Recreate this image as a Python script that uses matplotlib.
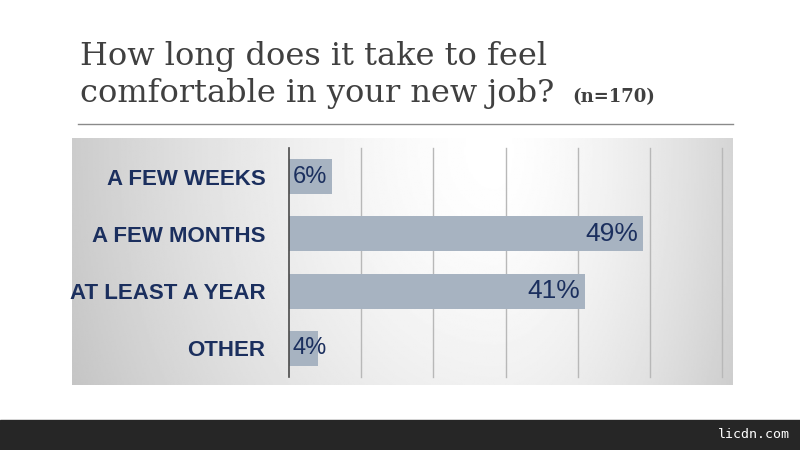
import numpy as np
import matplotlib.pyplot as plt

categories = ["A FEW WEEKS", "A FEW MONTHS", "AT LEAST A YEAR", "OTHER"]
values = [6, 49, 41, 4]
value_labels = ["6%", "49%", "41%", "4%"]

W, H = 800, 450
fig = plt.figure(figsize=(8, 4.5), dpi=100)
fig.patch.set_facecolor("white")

# gradient panel behind the chart
bg = fig.add_axes([72 / W, (H - 385) / H, 661 / W, 247 / H])
gx, gy = np.meshgrid(np.linspace(0, 1, 400), np.linspace(0, 1, 200))
cx = 0.64
rx = np.where(gx < cx, 0.70, 0.45)
d = np.sqrt(((gx - cx) / rx) ** 2 + ((gy - 0.05) / 2.4) ** 2)
shade = 1.0 - 0.23 * np.clip(d, 0, 1) ** 1.5
bg.imshow(shade, cmap="gray", vmin=0, vmax=1, aspect="auto",
          extent=[0, 1, 0, 1], origin="upper")
bg.axis("off")

ax = fig.add_axes([289 / W, (H - 377) / H, 433 / W, 229 / H])
ax.set_facecolor("none")
y = np.arange(len(categories))
ax.barh(y, values, height=0.61, color="#a7b3c1", zorder=2)
ax.set_xlim(0, 60)
ax.set_ylim(3.5, -0.5)
ax.set_xticks(range(10, 61, 10))
ax.grid(axis="x", color="#b8b8b8", lw=1, zorder=0)
for gl in ax.get_xgridlines():
    gl.set_clip_on(False)
ax.tick_params(axis="x", length=0, labelbottom=False)
ax.tick_params(axis="y", length=0, pad=17)
ax.set_yticks(y)
ax.set_yticklabels(categories, fontsize=16, color="#1b2f5e",
                   family="Liberation Sans", fontweight="bold")
for s in ["top", "right", "bottom"]:
    ax.spines[s].set_visible(False)
ax.spines["left"].set_color("#4a4a4a")
ax.spines["left"].set_linewidth(1.2)

for i, (v, lab) in enumerate(zip(values, value_labels)):
    if v > 20:
        ax.text(v - 0.6, i, lab, ha="right", va="center", fontsize=19,
                color="#1b2f5e", family="Liberation Sans", zorder=3)
    else:
        ax.text(0.5, i, lab, ha="left", va="center", fontsize=17,
                color="#1b2f5e", family="Liberation Sans", zorder=3)

# title
fig.text(80 / W, 1 - 65 / H, "How long does it take to feel",
         fontsize=23, family="DejaVu Serif", color="#404040", va="baseline")
fig.text(80 / W, 1 - 102 / H, "comfortable in your new job?",
         fontsize=23, family="DejaVu Serif", color="#404040", va="baseline")
fig.text(572 / W, 1 - 102 / H, "(n=170)", fontsize=13, family="DejaVu Serif",
         fontweight="bold", color="#404040", va="baseline")
fig.add_artist(plt.Line2D([78 / W, 733 / W], [1 - 124 / H, 1 - 124 / H],
                          color="#8a8a8a", lw=1))

# footer bar
fig.patches.append(plt.Rectangle((0, 0), 1, 30 / H, transform=fig.transFigure,
                                 color="#262626", zorder=0))
fig.text(790 / W, 15 / H, "licdn.com", fontsize=9.5, family="DejaVu Sans Mono",
         color="white", ha="right", va="center")

fig.savefig("out.png", dpi=100)
